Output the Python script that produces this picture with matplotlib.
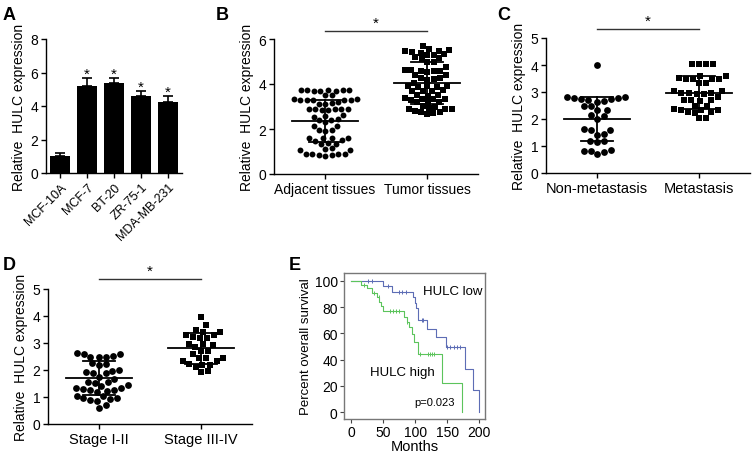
import numpy as np
import matplotlib
matplotlib.use("Agg")
import matplotlib.pyplot as plt

plt.rcParams['font.family'] = ['Liberation Sans', 'DejaVu Sans']

# ---------------- data ----------------
cell_lines = ["MCF-10A", "MCF-7", "BT-20", "ZR-75-1", "MDA-MB-231"]
cell_means = [1.0, 5.2, 5.35, 4.6, 4.25]
cell_err = [0.2, 0.45, 0.35, 0.3, 0.35]
cell_sig = [False, True, True, True, True]

b_cats = ["Adjacent tissues", "Tumor tissues"]
adjacent = [3.75, 3.73, 3.7, 3.7, 3.68, 3.72, 3.75, 3.74, 3.5, 3.5,
            3.32, 3.3, 3.3, 3.28, 3.3, 3.32, 3.3, 3.15, 3.12, 3.1, 3.18,
            2.9, 2.88, 2.85, 2.88, 2.9, 2.85, 2.9, 2.6, 2.62, 2.55,
            2.45, 2.42, 2.4, 2.3, 2.15, 2.12, 1.95, 1.95, 1.92,
            1.6, 1.62, 1.58, 1.6, 1.48, 1.5, 1.35, 1.38, 1.32,
            1.15, 1.12, 1.05, 1.05, 0.9, 0.88, 0.85, 0.85, 0.82, 0.88, 0.9]
tumor = [5.68, 5.55, 5.52, 5.45, 5.42, 5.48, 5.4, 5.3, 5.28, 5.32,
         5.15, 5.12, 5.18, 5.0, 4.98, 4.75, 4.6, 4.62, 4.58, 4.6, 4.55, 4.62,
         4.4, 4.42, 4.25, 4.22, 4.28, 4.2, 4.05, 3.9, 3.88, 3.92, 3.85, 3.9,
         3.7, 3.72, 3.68, 3.7, 3.5, 3.52, 3.48, 3.35, 3.38, 3.32, 3.35, 3.3,
         3.2, 3.18, 3.22, 3.0, 3.02, 2.9, 2.92, 2.88, 2.9, 2.75, 2.78, 2.72, 2.75, 2.65]
b_mean = [2.37, 4.03]
b_sd = [0.94, 0.93]

c_cats = ["Non-metastasis", "Metastasis"]
non_meta = [4.0, 2.8, 2.78, 2.75, 2.8, 2.75, 2.78, 2.72, 2.65, 2.62,
            2.5, 2.48, 2.35, 2.32, 2.15, 2.12, 2.0, 1.6, 1.62, 1.58,
            1.45, 1.42, 1.2, 1.18, 1.15, 0.85, 0.82, 0.8, 0.78, 0.7]
meta = [4.05, 4.02, 4.05, 4.03, 3.6, 3.58, 3.5, 3.48, 3.52, 3.5, 3.47,
        3.35, 3.32, 3.05, 3.02, 2.95, 2.93, 2.97, 2.95, 2.92, 2.8,
        2.7, 2.68, 2.72, 2.7, 2.5, 2.48, 2.35, 2.33, 2.37, 2.32,
        2.25, 2.22, 2.25, 2.05, 2.02]
c_mean = [2.0, 2.98]
c_sd = [0.8, 0.6]

d_cats = ["Stage I-II", "Stage III-IV"]
stage12 = [2.6, 2.6, 2.62, 2.5, 2.5, 2.5, 2.52, 2.25, 2.22, 2.2, 2.0, 1.98,
           1.9, 1.92, 1.88, 1.75, 1.65, 1.55, 1.55, 1.52, 1.45, 1.42, 1.35, 1.32,
           1.25, 1.25, 1.22, 1.28, 1.2, 1.05, 1.02, 0.95, 0.92, 0.95, 0.85, 0.88, 0.7, 0.6]
stage34 = [3.95, 3.65, 3.5, 3.4, 3.42, 3.3, 3.28, 3.2, 3.18, 3.22, 2.95, 2.97,
           2.93, 2.85, 2.7, 2.72, 2.6, 2.45, 2.45, 2.43, 2.35, 2.33, 2.2, 2.2,
           2.22, 2.1, 1.95, 1.93]
d_mean = [1.7, 2.8]
d_sd = [0.62, 0.57]

low_t = [0, 50, 64, 97, 99, 101, 105, 118, 133, 148, 178, 191, 199]
low_s = [100, 96, 91.7, 87.5, 83.3, 79, 70.5, 63.5, 57, 49.5, 33, 16.5, 0]
low_cens = [27, 32, 57, 75, 80, 85, 110, 113, 150, 155, 160, 165, 170]
high_t = [0, 16, 25, 33, 40, 44, 46, 50, 83, 87, 90, 95, 98, 105, 142, 173]
high_s = [100, 97, 94.5, 91, 87.5, 84, 80.5, 76.8, 72.5, 69, 65, 59.5, 53.5, 44, 22.3, 0]
high_cens = [20, 36, 43, 60, 65, 70, 75, 88, 107, 120, 123, 126, 130]

# ---------------- figure ----------------
W, H = 753, 456
fig = plt.figure(figsize=(W / 100, H / 100), dpi=100)


def px_axes(l, t, r, b):
    return fig.add_axes([l / W, 1 - b / H, (r - l) / W, (b - t) / H])


def style_gp(ax):
    for s in ['top', 'right']:
        ax.spines[s].set_visible(False)
    for s in ['left', 'bottom']:
        ax.spines[s].set_linewidth(1.0)
    ax.tick_params(direction='out', length=3.5, width=1.0, labelsize=10, pad=2)


def swarm_x(vals, ax, center, d_px):
    trans = ax.transData
    pts = trans.transform(np.column_stack([np.full(len(vals), center), vals]))
    ys = pts[:, 1]
    cx = pts[0, 0]
    order = np.argsort(ys)
    placed = []
    xs = np.zeros(len(vals))
    for i in order:
        y = ys[i]
        best = None
        k = 0
        while best is None:
            for s in ([0] if k == 0 else [1, -1]):
                off = s * k * 0.5
                if all((off - px) ** 2 + (y - py) ** 2 >= d_px ** 2 for px, py in placed):
                    best = off
                    break
            k += 1
        placed.append((best, y))
        xs[i] = cx + best
    back = trans.inverted().transform(np.column_stack([xs, ys]))
    return back[:, 0]


def scatter_panel(ax, groups, means, sds, cats, ymax, yticks, sig_y, star_y, msize, dpx, xfs):
    ax.set_xlim(-0.5, 1.5)
    ax.set_ylim(0, ymax)
    markers = ['o', 's']
    for i, vals in enumerate(groups):
        xs = swarm_x(vals, ax, i, dpx)
        ax.scatter(xs, vals, marker=markers[i], s=msize, c='black', linewidths=0, zorder=3)
        m, sd = means[i], sds[i]
        ax.plot([i - 0.32, i + 0.32], [m, m], color='black', lw=1.3, zorder=4)
        ax.plot([i, i], [m - sd, m + sd], color='black', lw=1.3, zorder=4)
        ax.plot([i - 0.16, i + 0.16], [m + sd, m + sd], color='black', lw=1.3, zorder=4)
        ax.plot([i - 0.16, i + 0.16], [m - sd, m - sd], color='black', lw=1.3, zorder=4)
    ax.set_xticks([0, 1])
    ax.set_xticklabels(cats, fontsize=xfs)
    ax.set_yticks(yticks)
    ax.set_ylabel("Relative  HULC expression", fontsize=10, labelpad=3)
    ax.plot([0, 1], [sig_y, sig_y], color='#333333', lw=1.0, clip_on=False)
    ax.text(0.5, star_y, "*", ha='center', va='center', fontsize=11, clip_on=False)


# ---- A ----
axA = px_axes(46, 40, 182, 174)
style_gp(axA)
xA = np.arange(len(cell_lines))
axA.bar(xA, cell_means, width=0.74, color='black', zorder=2)
axA.errorbar(xA, cell_means, yerr=[np.zeros(len(cell_err)), cell_err], fmt='none',
             ecolor='black', elinewidth=1.2, capsize=3.5, capthick=1.2, zorder=1)
for x, m, e, s in zip(xA, cell_means, cell_err, cell_sig):
    if s:
        axA.text(x, m + e + 0.25, "*", ha='center', va='center', fontsize=11)
axA.set_xlim(-0.52, 4.52)
axA.set_ylim(0, 8)
axA.set_yticks([0, 2, 4, 6, 8])
axA.set_xticks(xA)
axA.set_xticklabels(cell_lines, rotation=45, ha='right', rotation_mode='anchor', fontsize=9)
axA.set_ylabel("Relative  HULC expression", fontsize=10, labelpad=3)

# ---- B ----
axB = px_axes(274, 40, 478, 175)
style_gp(axB)
scatter_panel(axB, [adjacent, tumor], b_mean, b_sd, b_cats, 6, [0, 2, 4, 6],
              6.36, 6.72, 18, 6.2, 10)

# ---- C ----
axC = px_axes(546, 39, 750, 174)
style_gp(axC)
scatter_panel(axC, [non_meta, meta], c_mean, c_sd, c_cats, 5, [0, 1, 2, 3, 4, 5],
              5.33, 5.63, 24, 7.0, 10.5)

# ---- D ----
axD = px_axes(48, 290, 252, 425)
style_gp(axD)
scatter_panel(axD, [stage12, stage34], d_mean, d_sd, d_cats, 5, [0, 1, 2, 3, 4, 5],
              5.37, 5.67, 24, 7.0, 10.5)

# ---- E ----
axE = px_axes(344, 274, 485, 420)
for s in axE.spines.values():
    s.set_color('#777777')
    s.set_linewidth(1.0)
axE.tick_params(direction='out', length=3, width=0.8, labelsize=10, pad=1.5, color='#444444')
blue = '#5d6db5'
green = '#5cc45c'
axE.step(low_t + [200], low_s + [0], where='post', color=blue, lw=0.8)
axE.step(high_t, high_s, where='post', color=green, lw=0.8)


def surv_at(t, times, surv):
    idx = np.searchsorted(times, t, side='right') - 1
    return np.array(surv)[idx]


axE.plot(low_cens, surv_at(low_cens, low_t, low_s), linestyle='none', marker='|',
         markersize=3, color=blue, markeredgewidth=0.7)
axE.plot(high_cens, surv_at(high_cens, high_t, high_s), linestyle='none', marker='|',
         markersize=3, color=green, markeredgewidth=0.7)
axE.set_xlim(-11, 209)
axE.set_ylim(-5.3, 106)
axE.set_xticks([0, 50, 100, 150, 200])
axE.set_yticks([0, 20, 40, 60, 80, 100])
axE.set_xlabel("Months", fontsize=10.5, labelpad=0)
axE.set_ylabel("Percent overall survival", fontsize=9.5, labelpad=2)
axE.text(0.985, 0.88, "HULC low", transform=axE.transAxes, ha='right', va='center', fontsize=9.5)
axE.text(0.185, 0.325, "HULC high", transform=axE.transAxes, ha='left', va='center', fontsize=9.5)
axE.text(0.495, 0.115, "p=0.023", transform=axE.transAxes, ha='left', va='center', fontsize=8)

# ---- panel letters ----
for lab, x, y in [("A", 3, 7), ("B", 216, 7), ("C", 497, 7), ("D", 3, 257), ("E", 289, 257)]:
    fig.text(x / W, 1 - y / H, lab, fontsize=13, fontweight='bold', ha='left', va='top')

fig.savefig("out.png", dpi=100)
